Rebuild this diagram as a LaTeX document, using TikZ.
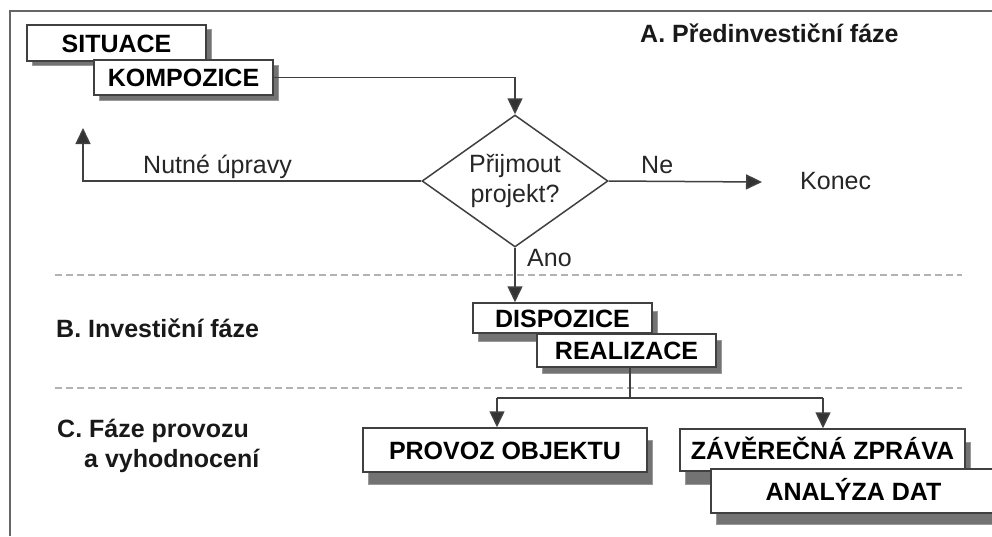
\documentclass[tikz,border=0pt]{standalone}
\usepackage{fontspec}
\setmainfont{Liberation Sans}
\usetikzlibrary{shapes.geometric,arrows.meta,shadows}

\tikzset{
  frame/.style={draw=black!60, line width=2pt},
  sep/.style={draw=black!30, line width=2pt, dash pattern=on 7pt off 4pt},
  conn/.style={draw=black!75, line width=1.5pt},
  arr/.style={-{Triangle[length=16pt,width=15pt,fill=black!80]}},
  txt/.style={font=\fontsize{25}{30}\selectfont, text=black!85, inner sep=0pt},
  phase/.style={font=\fontsize{25}{30}\selectfont\bfseries, text=black!90, inner sep=0pt},
  pbox/.style={draw=black!75, line width=1.5pt, fill=white, inner sep=0pt,
    font=\fontsize{25}{30}\selectfont\bfseries, text=black,
    text height=18pt, text depth=0pt,
    drop shadow={shadow xshift=5pt, shadow yshift=-#1, opacity=1,
      fill=black!55, draw=black!40, line width=1pt}},
  pbox/.default=5pt,
  decision/.style={shape=diamond, draw=black!75, line width=1.5pt, fill=white,
    aspect=1.41, inner sep=0pt, minimum width=186pt, minimum height=132pt,
    align=center, font=\fontsize{25}{30}\selectfont, text=black!85}
}

\begin{document}
\begin{tikzpicture}[x=1pt,y=-1pt]
\useasboundingbox (0,0) rectangle (992,536);
\fill[white] (0,0) rectangle (992,536);

% outer frame (open to the right and bottom)
\draw[frame] (10,536) -- (10,11) -- (992,11);

% phase separators
\draw[sep] (55,275) -- (962,275);
\draw[sep] (55,388) -- (962,388);

% phase titles
\node[phase, anchor=base west] (pa) at (640,42) {A. Předinvestiční fáze};
\node[phase, anchor=base west] (pb) at (56,337) {B. Investiční fáze};
\node[phase, anchor=base west] (pc1) at (57,437) {C. Fáze provozu};
\node[phase, anchor=base west] (pc2) at (84,467) {a vyhodnocení};

% phase A
\node[pbox=4pt, minimum width=179pt, minimum height=36pt] (sit) at (116.5,43) {SITUACE};
\node[pbox=5pt, minimum width=179pt, minimum height=35pt] (komp) at (183.5,77.5) {KOMPOZICE};

\node[decision] (dia) at (515,181) {Přijmout\\projekt?};

\node[txt, anchor=base west] (konec) at (800,189) {Konec};
\node[txt, anchor=base west] (lnut) at (143,173) {Nutné úpravy};
\node[txt, anchor=base west] (lne) at (641,173) {Ne};
\node[txt, anchor=base west] (lano) at (527,266) {Ano};

% phase B
\node[pbox=8pt, minimum width=179pt, minimum height=30pt] (disp) at (562.5,318) {DISPOZICE};
\node[pbox=6pt, minimum width=179pt, minimum height=33pt] (real) at (626.5,350.5) {REALIZACE};

% phase C
\node[pbox=12pt, minimum width=284pt, minimum height=44pt] (prov) at (505,450) {PROVOZ OBJEKTU};
\node[pbox=13pt, minimum width=285pt, minimum height=42pt] (zav) at (822.5,450) {ZÁVĚREČNÁ ZPRÁVA};
\node[pbox=11pt, minimum width=285pt, minimum height=44pt] (anal) at (853.5,491) {ANALÝZA DAT};

% connectors
\coordinate (back) at (83,128);
\coordinate (neend) at (762,182);
\coordinate (split) at (630,398);
\coordinate (bl) at (497,398);
\coordinate (br) at (823,398);

\draw[conn, arr] (komp.east) -| (dia.north);
\draw[conn, arr] (dia.west) -| (back);
\draw[conn, arr] (dia.east) -- (neend);
\draw[conn, arr] (dia.south) -- (dia.south |- disp.north);
\draw[conn] (real.south -| split) -- (split);
\draw[conn] (bl) -- (br);
\draw[conn, arr] (bl) -- (bl |- prov.north);
\draw[conn, arr] (br) -- (br |- zav.north);
\end{tikzpicture}
\end{document}
